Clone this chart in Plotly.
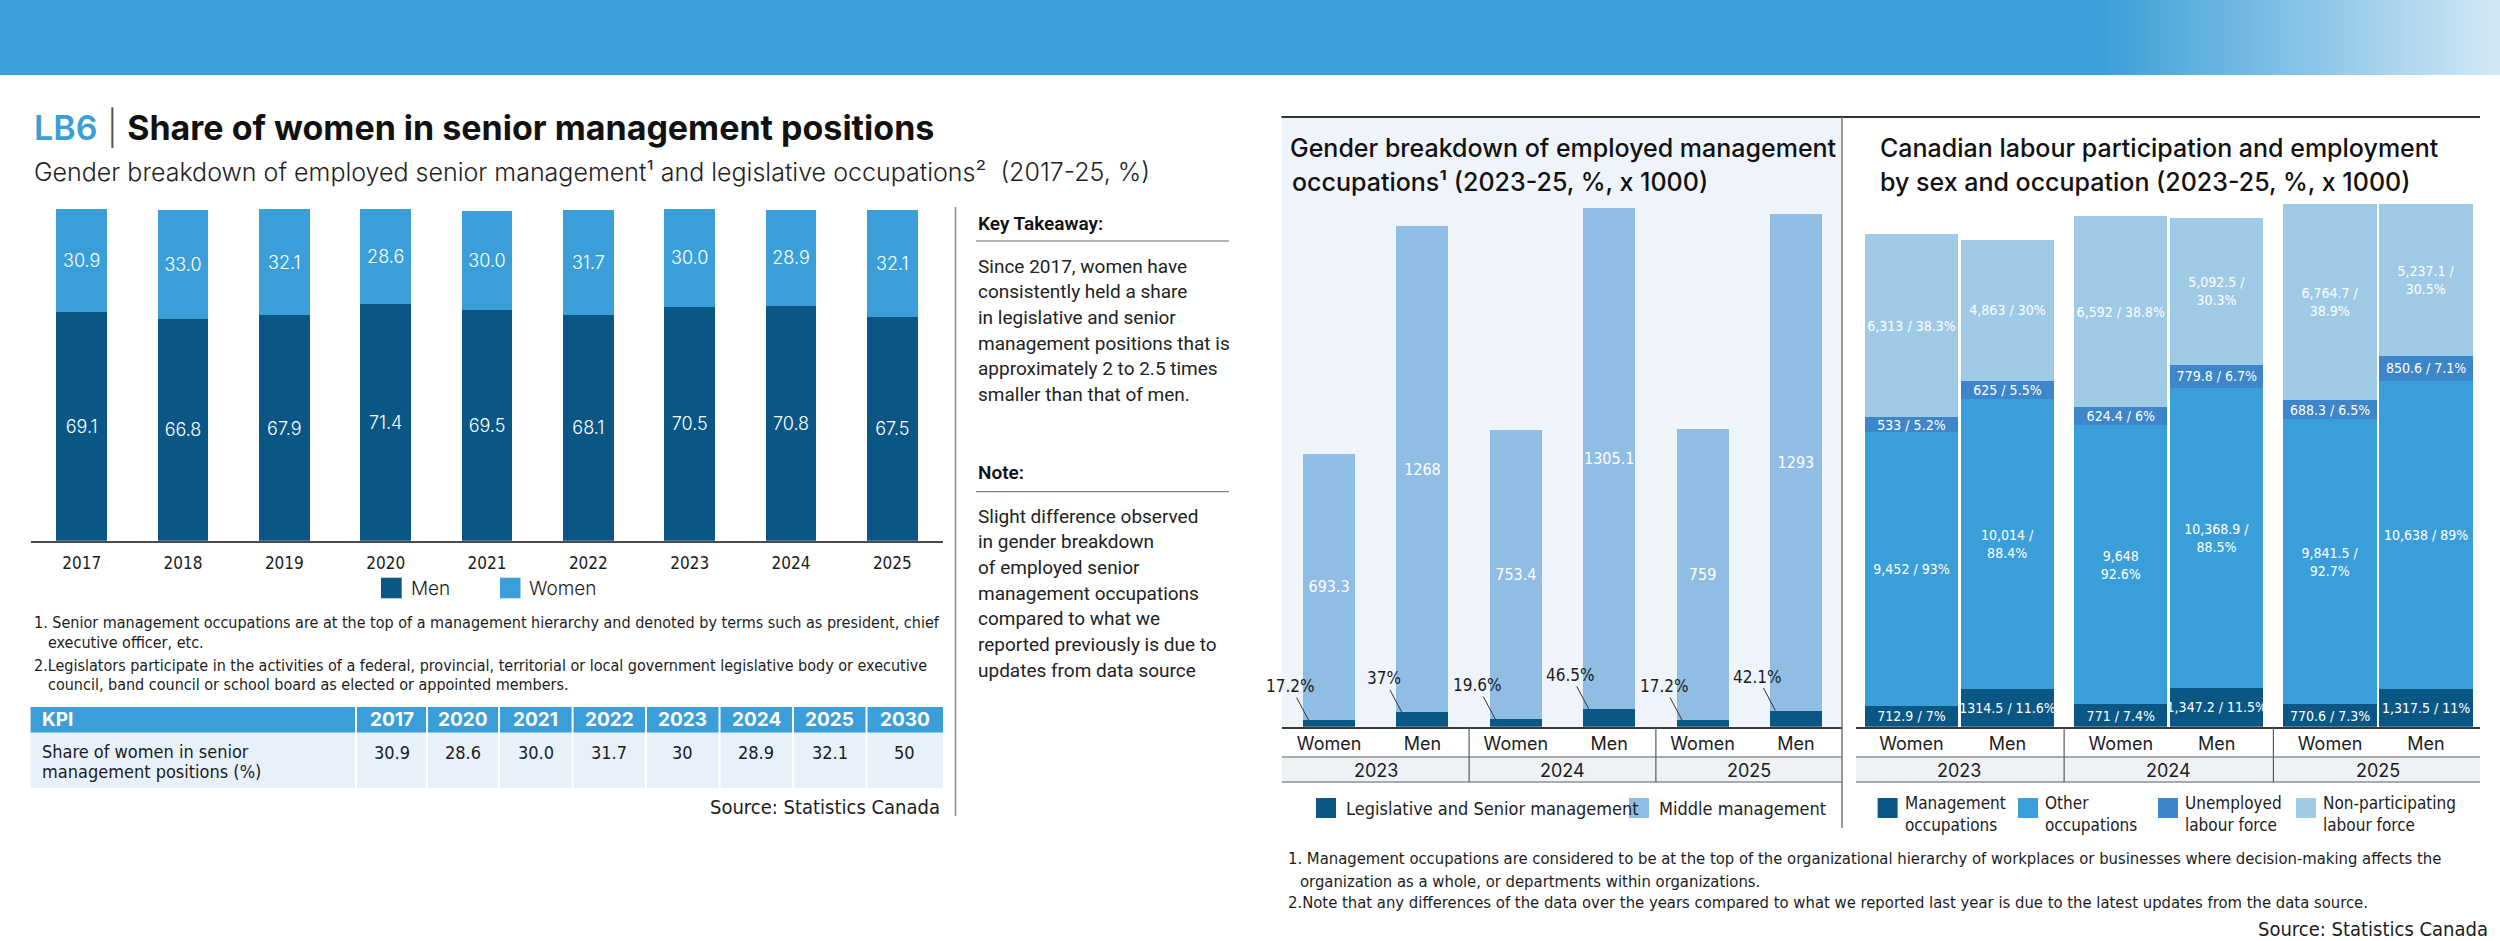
import base64
import plotly.graph_objects as go

W, H = 2500, 941

# ---------------- data ----------------
years = ["2017", "2018", "2019", "2020", "2021", "2022", "2023", "2024", "2025"]
men_share = [69.1, 66.8, 67.9, 71.4, 69.5, 68.1, 70.5, 70.8, 67.5]
women_share = [30.9, 33.0, 32.1, 28.6, 30.0, 31.7, 30.0, 28.9, 32.1]

kpi_header = "KPI"
kpi_label = ["Share of women in senior", "management positions (%)"]
kpi_years = ["2017", "2020", "2021", "2022", "2023", "2024", "2025", "2030"]
kpi_values = ["30.9", "28.6", "30.0", "31.7", "30", "28.9", "32.1", "50"]

group_years = ["2023", "2024", "2025"]
sexes = ["Women", "Men"]

senior_mgmt = [17.2, 37, 19.6, 46.5, 17.2, 42.1]
senior_labels = ["17.2%", "37%", "19.6%", "46.5%", "17.2%", "42.1%"]
middle_mgmt = [693.3, 1268, 753.4, 1305.1, 759, 1293]
middle_labels = ["693.3", "1268", "753.4", "1305.1", "759", "1293"]

mgmt_occ = [712.9, 1314.5, 771, 1347.2, 770.6, 1317.5]
mgmt_occ_labels = ["712.9 / 7%", "1314.5 / 11.6%", "771 / 7.4%", "1,347.2 / 11.5%", "770.6 / 7.3%", "1,317.5 / 11%"]
other_occ = [9452, 10014, 9648, 10368.9, 9841.5, 10638]
other_occ_labels = ["9,452 / 93%", "10,014 /<br>88.4%", "9,648<br>92.6%", "10,368.9 /<br>88.5%", "9,841.5 /<br>92.7%", "10,638 / 89%"]
unemployed = [533, 625, 624.4, 779.8, 688.3, 850.6]
unemployed_labels = ["533 / 5.2%", "625 / 5.5%", "624.4 / 6%", "779.8 / 6.7%", "688.3 / 6.5%", "850.6 / 7.1%"]
non_participating = [6313, 4863, 6592, 5092.5, 6764.7, 5237.1]
non_participating_labels = ["6,313 / 38.3%", "4,863 / 30%", "6,592 / 38.8%", "5,092.5 /<br>30.3%", "6,764.7 /<br>38.9%", "5,237.1 /<br>30.5%"]

key_takeaway = ["Since 2017, women have", "consistently held a share", "in legislative and senior",
                "management positions that is", "approximately 2 to 2.5 times", "smaller than that of men."]
note_lines = ["Slight difference observed", "in gender breakdown", "of employed senior",
              "management occupations", "compared to what we", "reported previously is due to",
              "updates from data source"]

# ---------------- style ----------------
MAIN = "Inter, Roboto, sans-serif"
BODY = "Roboto, Inter, sans-serif"
NARROW = "DejaVu Sans Condensed, Liberation Sans Narrow, Roboto, sans-serif"
DARK = "#0a5786"
MID = "#3a9fd8"
LIGHT_MID = "#8fbde4"
UNEMP = "#3c86c9"
NONPART = "#9fcae6"
TXT = "#1c1c1c"


def px(x):
    return x / W


def py(y):
    return 1 - y / H


fig = go.Figure()

# ---------- left chart ----------
for vals, name, col in [(men_share, "Men", DARK), (women_share, "Women", MID)]:
    fig.add_trace(go.Bar(
        x=years, y=vals, name=name, marker=dict(color=col, line=dict(width=0)), width=0.5,
        texttemplate="%{y:.1f}", textposition="inside", insidetextanchor="middle",
        textangle=0, constraintext="none",
        textfont=dict(color="white", size=18, family=MAIN, weight=300),
        xaxis="x", yaxis="y", hoverinfo="skip"))

# ---------- middle chart ----------
mid_pos = list(range(len(middle_mgmt)))
mid_ticktext = [s for _ in group_years for s in sexes]
fig.add_trace(go.Bar(
    x=mid_pos, y=senior_mgmt, name="Legislative and Senior management",
    marker=dict(color=DARK, line=dict(width=0)), width=0.557, xaxis="x2", yaxis="y2", hoverinfo="skip"))
fig.add_trace(go.Bar(
    x=mid_pos, y=middle_mgmt, name="Middle management", text=middle_labels,
    marker=dict(color=LIGHT_MID, line=dict(width=0)), width=0.557,
    textposition="inside", insidetextanchor="middle", textangle=0, constraintext="none",
    textfont=dict(color="white", size=16, family=NARROW),
    xaxis="x2", yaxis="y2", hoverinfo="skip"))

# ---------- right chart ----------
GROUP_STEP = 2.18
right_pos = [g * GROUP_STEP + s for g in range(len(group_years)) for s in range(len(sexes))]
for vals, labs, name, col in [
        (mgmt_occ, mgmt_occ_labels, "Management occupations", DARK),
        (other_occ, other_occ_labels, "Other occupations", MID),
        (unemployed, unemployed_labels, "Unemployed labour force", UNEMP),
        (non_participating, non_participating_labels, "Non-participating labour force", NONPART)]:
    fig.add_trace(go.Bar(
        x=right_pos, y=vals, name=name, text=labs, width=0.97,
        marker=dict(color=col, line=dict(width=0)),
        textposition="inside", insidetextanchor="middle", textangle=0, constraintext="none",
        textfont=dict(color="white", size=14, family=NARROW),
        xaxis="x3", yaxis="y3", hoverinfo="skip"))

# ---------- axes ----------
base_mid = 726.7
fig.update_layout(
    width=W, height=H, margin=dict(l=0, r=0, t=0, b=0),
    paper_bgcolor="white", plot_bgcolor="rgba(0,0,0,0)",
    barmode="stack", showlegend=False,
    xaxis=dict(domain=[px(31), px(943)], type="category", range=[-0.5, 8.5],
               showline=True, linecolor="#4a4a4a", linewidth=2, ticks="", showgrid=False,
               tickfont=dict(size=17, family=NARROW, color=TXT), ticklabelstandoff=6, fixedrange=True),
    yaxis=dict(domain=[py(540.7), py(209)], range=[0, 100], visible=False, fixedrange=True),
    xaxis2=dict(domain=[px(1282.4), px(1842.6)], range=[-0.5, 5.5], anchor="y2",
                tickvals=mid_pos, ticktext=mid_ticktext, showline=True, linecolor="#3a3a3a",
                linewidth=2, ticks="", showgrid=False, zeroline=False,
                tickfont=dict(size=18, family=MAIN, color=TXT), ticklabelstandoff=0, fixedrange=True),
    yaxis2=dict(domain=[py(base_mid), py(base_mid - 1360 * 0.384)], range=[0, 1360],
                visible=False, anchor="x2", fixedrange=True),
    xaxis3=dict(domain=[px(1856), px(2480)], range=[-0.578, 5.922], anchor="y3",
                tickvals=right_pos, ticktext=mid_ticktext, showline=True, linecolor="#3a3a3a",
                linewidth=2, ticks="", showgrid=False, zeroline=False,
                tickfont=dict(size=18, family=MAIN, color=TXT), ticklabelstandoff=0, fixedrange=True),
    yaxis3=dict(domain=[py(base_mid), py(base_mid - 18200 * 0.02895)], range=[0, 18200],
                visible=False, anchor="x3", fixedrange=True),
)

shapes = []
annotations = []

# banner gradient
svg = ('<svg xmlns="http://www.w3.org/2000/svg" width="2500" height="75" preserveAspectRatio="none">'
       '<defs><linearGradient id="g" x1="0" y1="0" x2="1" y2="0">'
       '<stop offset="0" stop-color="#3a9fd8"/><stop offset="0.84" stop-color="#3a9fd8"/>'
       '<stop offset="1" stop-color="#d3e8f5"/></linearGradient></defs>'
       '<rect width="2500" height="75" fill="url(#g)"/></svg>')
src = "data:image/svg+xml;base64," + base64.b64encode(svg.encode()).decode()
fig.add_layout_image(dict(source=src, xref="paper", yref="paper", x=0, y=1, sizex=1, sizey=75 / H,
                          xanchor="left", yanchor="top", sizing="stretch", layer="below"))


def line(x0, y0, x1, y1, color="#555", width=1.2):
    shapes.append(dict(type="line", xref="paper", yref="paper", x0=px(x0), y0=py(y0), x1=px(x1), y1=py(y1),
                       line=dict(color=color, width=width)))


def rect(x0, y0, x1, y1, color, layer="below"):
    shapes.append(dict(type="rect", xref="paper", yref="paper", x0=px(x0), y0=py(y0), x1=px(x1), y1=py(y1),
                       fillcolor=color, line=dict(width=0), layer=layer))


def text(x, y, t, size, family=MAIN, color=TXT, xanchor="left", yanchor="middle", weight=None):
    f = dict(size=size, family=family, color=color)
    if weight:
        f["weight"] = weight
    annotations.append(dict(x=px(x), y=py(y), xref="paper", yref="paper", text=t, showarrow=False,
                            xanchor=xanchor, yanchor=yanchor, align="left", font=f))


# ---------- KPI table (cells drawn as shapes + texts) ----------
col_edges = [30.6, 356, 427, 499, 572.6, 646, 719.5, 793, 866.5, 943]
HEAD_TOP, HEAD_BOT, BODY_BOT = 707, 732.7, 788
rect(col_edges[0], HEAD_TOP, col_edges[-1], HEAD_BOT, MID, "above")
rect(col_edges[0], HEAD_BOT, col_edges[-1], BODY_BOT, "#e8f1f9", "above")
for xe in col_edges[1:-1]:
    shapes.append(dict(type="line", xref="paper", yref="paper", x0=px(xe), x1=px(xe),
                       y0=py(HEAD_TOP), y1=py(BODY_BOT), line=dict(color="white", width=2), layer="above"))
text(col_edges[0] + 9, (HEAD_TOP + HEAD_BOT) / 2, "<b>%s</b>" % kpi_header, 19, MAIN, "white")
text(col_edges[0] + 9, 751.7, kpi_label[0], 18, NARROW, TXT)
text(col_edges[0] + 9, 771.7, kpi_label[1], 18, NARROW, TXT)
for j, (yr, v) in enumerate(zip(kpi_years, kpi_values)):
    xc = (col_edges[j + 1] + col_edges[j + 2]) / 2
    text(xc, (HEAD_TOP + HEAD_BOT) / 2, "<b>%s</b>" % yr, 19, MAIN, "white", xanchor="center")
    text(xc, 752, v, 18, NARROW, TXT, xanchor="center")

# panel backgrounds and table rows under middle/right charts
rect(1282, 118, 1842, base_mid, "#eef4fa")
rect(1282, 757, 1842, 782, "#eef2f7")
rect(1856, 757, 2480, 782, "#eef2f7")
for y in (757, 782):
    line(1282, y, 1842, y, "#5a5a5a", 1.2)
    line(1856, y, 2480, y, "#5a5a5a", 1.2)

# group dividers and year labels through the library's axes
for g in range(len(group_years) - 1):
    xm = (mid_pos[2 * g + 1] + mid_pos[2 * g + 2]) / 2
    shapes.append(dict(type="line", xref="x2", yref="paper", x0=xm, x1=xm,
                       y0=py(base_mid), y1=py(782), line=dict(color="#5a5a5a", width=1.2)))
    xr = (right_pos[2 * g + 1] + right_pos[2 * g + 2]) / 2
    shapes.append(dict(type="line", xref="x3", yref="paper", x0=xr, x1=xr,
                       y0=py(base_mid), y1=py(782), line=dict(color="#5a5a5a", width=1.2)))
for g, yr in enumerate(group_years):
    annotations.append(dict(x=(mid_pos[2 * g] + mid_pos[2 * g + 1]) / 2, y=py(770), xref="x2", yref="paper",
                            text=yr, showarrow=False, xanchor="center", yanchor="middle",
                            font=dict(size=18, family=MAIN, color=TXT)))
    annotations.append(dict(x=(right_pos[2 * g] + right_pos[2 * g + 1]) / 2, y=py(770), xref="x3", yref="paper",
                            text=yr, showarrow=False, xanchor="center", yanchor="middle",
                            font=dict(size=18, family=MAIN, color=TXT)))

# percentage call-outs in middle chart
for i, lab in enumerate(senior_labels):
    annotations.append(dict(x=mid_pos[i] - 0.22, y=senior_mgmt[i], xref="x2", yref="y2", text=lab,
                            showarrow=True, arrowhead=0, arrowwidth=1, arrowcolor="#333", ax=-18, ay=-34,
                            font=dict(size=17, family=NARROW, color=TXT)))

# separators
line(955.5, 207, 955.5, 816, "#8a8a8a", 1.5)
line(1281.5, 117, 2480, 117, "#333", 2)
line(1842, 117, 1842, 828, "#777", 1.5)
line(976, 241, 1229, 241, "#666", 1)
line(976, 491.7, 1229, 491.7, "#666", 1)

# titles
text(32, 128, "<span style='color:#3a9fd8'>LB6</span><span style='color:#555;font-weight:300'> | </span>"
     "<b>Share of women in senior management positions</b>", 34, MAIN, "#111", weight=600)
text(32, 172, "Gender breakdown of employed senior management¹ and legislative occupations²  (2017-25, %)",
     25, MAIN, "#222", weight=300)
text(1288, 148, "Gender breakdown of employed management", 25, MAIN, "#111", weight=500)
text(1290, 182, "occupations¹ (2023-25, %, x 1000)", 25, MAIN, "#111", weight=500)
text(1878, 148, "Canadian labour participation and employment", 25, MAIN, "#111", weight=500)
text(1878, 182, "by sex and occupation (2023-25, %, x 1000)", 25, MAIN, "#111", weight=500)

# key takeaway / note
text(976, 223.3, "Key Takeaway:", 19, BODY, "#111", weight=600)
for i, t in enumerate(key_takeaway):
    text(976, 266 + i * 25.7, t, 19, BODY, "#222")
text(976, 472.7, "Note:", 19, BODY, "#111", weight=600)
for i, t in enumerate(note_lines):
    text(976, 516 + i * 25.7, t, 19, BODY, "#222")

# legends
rect(381, 577.7, 401.7, 598.3, DARK, "above")
text(409, 588, "Men", 19, MAIN, TXT, weight=300)
rect(500, 577.7, 520.5, 598.3, MID, "above")
text(526.6, 588, "Women", 19, MAIN, TXT, weight=300)

rect(1316, 798, 1336, 818, DARK, "above")
text(1343.5, 808, "Legislative and Senior management", 18, NARROW, TXT)
rect(1629, 798, 1649, 818, LIGHT_MID, "above")
text(1656.5, 808, "Middle management", 18, NARROW, TXT)

for x0, col, t in [(1877.6, DARK, "Management<br>occupations"), (2018, MID, "Other<br>occupations"),
                   (2158, UNEMP, "Unemployed<br>labour force"), (2296, NONPART, "Non-participating<br>labour force")]:
    rect(x0, 798, x0 + 20, 818, col, "above")
    text(x0 + 25, 813.5, t, 17, NARROW, TXT)

# footnotes
text(32, 622.7, "1. Senior management occupations are at the top of a management hierarchy and denoted by terms such as president, chief", 16, NARROW, TXT)
text(46, 642.3, "executive officer, etc.", 16, NARROW, TXT)
text(32, 665, "2.Legislators participate in the activities of a federal, provincial, territorial or local government legislative body or executive", 16, NARROW, TXT)
text(46, 684, "council, band council or school board as elected or appointed members.", 16, NARROW, TXT)
text(942, 807.3, "Source: Statistics Canada", 20, NARROW, TXT, xanchor="right")

text(1286, 858.3, "1. Management occupations are considered to be at the top of the organizational hierarchy of workplaces or businesses where decision-making affects the", 16.5, NARROW, TXT)
text(1297.5, 881.7, "organization as a whole, or departments within organizations.", 16.5, NARROW, TXT)
text(1286, 902.7, "2.Note that any differences of the data over the years compared to what we reported last year is due to the latest updates from the data source.", 16.5, NARROW, TXT)
text(2490, 929, "Source: Statistics Canada", 20, NARROW, TXT, xanchor="right")

fig.update_layout(shapes=shapes, annotations=annotations)
fig.write_html("out.html", config={"displayModeBar": False},
               post_script="document.body.style.margin='0';document.body.style.padding='0';"
                           "document.body.style.overflow='hidden';")
